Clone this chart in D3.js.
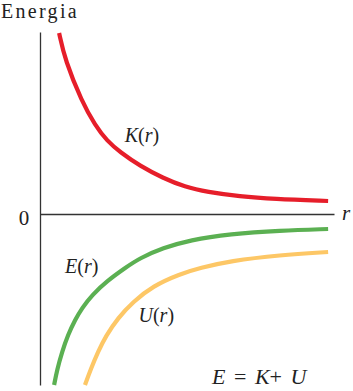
<!DOCTYPE html>
<html>
<head>
<meta charset="utf-8">
<script src="https://cdn.jsdelivr.net/npm/d3@7/dist/d3.min.js"></script>
</head>
<body style="margin:0">
<svg id="chart"></svg>
<script>
// values (r in arbitrary units, energy in arbitrary units)
const rK = [0.65, 0.85, 1.43, 1.87, 2.28, 2.72, 3.40, 4.18, 4.93, 5.68, 6.80, 7.93, 9.80];
const kVals = [18.1, 15.4, 11.2, 8.9, 7.3, 6.2, 4.8, 3.6, 2.7, 2.2, 1.75, 1.5, 1.3];

const rE = [0.48, 0.58, 0.75, 0.95, 1.19, 1.43, 1.77, 2.28, 2.89, 3.40, 4.18, 5.10, 6.46, 8.16, 9.80];
const eVals = [-17.1, -15.6, -13.8, -12.1, -10.6, -9.4, -8.1, -6.7, -5.4, -4.4, -3.4, -2.6, -2.0, -1.65, -1.5];

const rU = [1.53, 1.73, 1.97, 2.24, 2.65, 3.16, 3.84, 4.76, 5.44, 6.46, 8.16, 9.80];
const uVals = [-17.1, -15.5, -13.8, -12.2, -10.4, -8.8, -7.2, -6.0, -5.4, -4.7, -4.1, -3.8];

const curveLabels = ["K", "E", "U"];
const curveLabelPos = [[2.88, 7.2], [0.85, -5.9], [3.35, -10.8]]; // [r, energy]

var svg = d3.select("#chart").attr("width", 353).attr("height", 391);

var x = d3.scaleLinear().domain([0, 10]).range([40, 334]);
var y = d3.scaleLinear().domain([-17.1, 18.2]).range([385, 32]);

// axes without ticks
svg.append("g")
    .attr("transform", "translate(0," + y(0) + ")")
    .call(d3.axisBottom(x).tickValues([]).tickSizeOuter(0))
    .select(".domain").attr("stroke", "#333").attr("stroke-width", 1.5);

svg.append("g")
    .attr("transform", "translate(" + x(0) + ",0)")
    .call(d3.axisLeft(y).tickValues([]).tickSizeOuter(0))
    .select(".domain").attr("stroke", "#333").attr("stroke-width", 1.3);

var line = d3.line()
    .x(d => x(d[0]))
    .y(d => y(d[1]))
    .curve(d3.curveBasis);

var series = [
  {pts: d3.zip(rK, kVals), color: "#e61e2a"},
  {pts: d3.zip(rE, eVals), color: "#5bb052"},
  {pts: d3.zip(rU, uVals), color: "#fdc766"}
];

series.forEach(s => {
  svg.append("path")
      .attr("d", line(s.pts))
      .attr("fill", "none")
      .attr("stroke", s.color)
      .attr("stroke-width", 4.2);
});

function label(xp, yp, size) {
  return svg.append("text")
      .attr("x", xp).attr("y", yp)
      .style("font-family", "Liberation Serif")
      .attr("font-size", size)
      .attr("fill", "#222");
}
function ital(sel, s) {
  sel.append("tspan").style("font-style", "italic").text(s);
}

// curve labels: italic letter, upright parens, italic r
curveLabels.forEach((name, i) => {
  var t = label(x(curveLabelPos[i][0]), y(curveLabelPos[i][1]), 20);
  ital(t, name);
  t.append("tspan").text("(");
  ital(t, "r");
  t.append("tspan").text(")");
});

// axis texts
label(1, 18, 20).attr("letter-spacing", 2.3).text("Energia");
label(24, 225, 21).attr("text-anchor", "middle").text("0");
ital(label(342, 220, 21), "r");

// formula
var f = label(212, 384, 22).attr("word-spacing", 3);
ital(f, "E");
f.append("tspan").text(" = ");
ital(f, "K");
f.append("tspan").text("+ ");
ital(f, "U");
</script>
</body>
</html>
